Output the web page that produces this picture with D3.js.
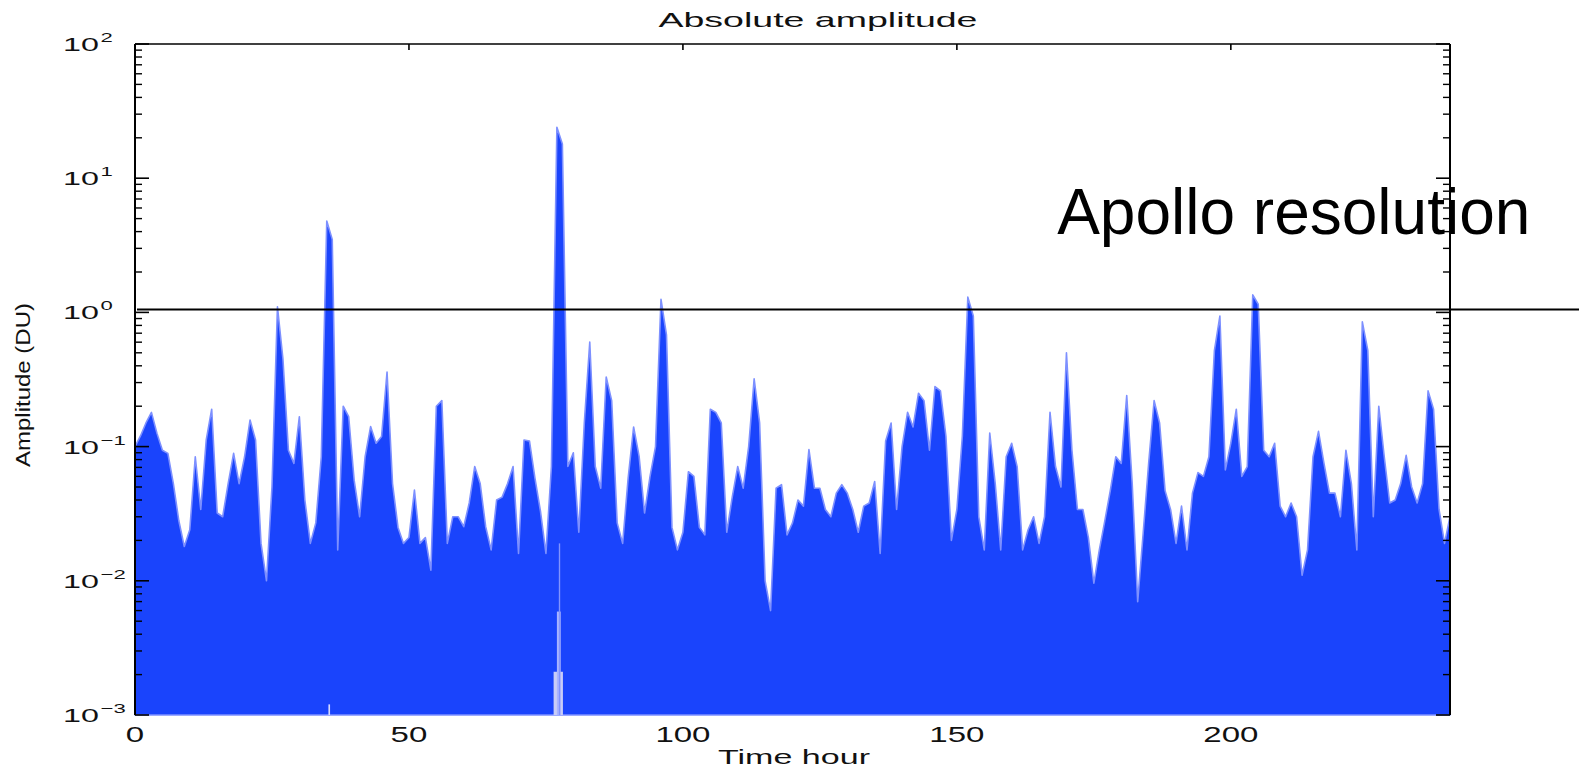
<!DOCTYPE html>
<html><head><meta charset="utf-8">
<script src="https://cdn.jsdelivr.net/npm/d3@7"></script>
<style>body{margin:0;background:#fff} svg{display:block}</style>
</head><body><svg id="c" width="1579" height="771"></svg>
<script>
// ---- data ----
const hours = [0,1,2,3,4,5,6,7,8,9,10,11,12,13,14,15,16,17,18,19,20,21,22,23,24,25,26,27,28,29,30,31,32,33,34,35,36,37,38,39,40,41,42,43,44,45,46,47,48,49,50,51,52,53,54,55,56,57,58,59,60,61,62,63,64,65,66,67,68,69,70,71,72,73,74,75,76,77,78,79,80,81,82,83,84,85,86,87,88,89,90,91,92,93,94,95,96,97,98,99,100,101,102,103,104,105,106,107,108,109,110,111,112,113,114,115,116,117,118,119,120,121,122,123,124,125,126,127,128,129,130,131,132,133,134,135,136,137,138,139,140,141,142,143,144,145,146,147,148,149,150,151,152,153,154,155,156,157,158,159,160,161,162,163,164,165,166,167,168,169,170,171,172,173,174,175,176,177,178,179,180,181,182,183,184,185,186,187,188,189,190,191,192,193,194,195,196,197,198,199,200,201,202,203,204,205,206,207,208,209,210,211,212,213,214,215,216,217,218,219,220,221,222,223,224,225,226,227,228,229,230,231,232,233,234,235,236,237,238,239,240];
const amplitude = [
 0.10,0.12,0.15,0.18,0.126,0.094,0.089,0.053,0.028,0.018,
 0.024,0.084,0.034,0.112,0.19,0.032,0.030,0.053,0.089,0.053,
 0.084,0.158,0.112,0.019,0.010,0.050,1.1,0.45,0.094,0.075,
 0.167,0.040,0.019,0.027,0.084,4.8,3.5,0.017,0.20,0.167,
 0.056,0.030,0.084,0.141,0.106,0.119,0.36,0.053,0.025,0.019,
 0.021,0.0475,0.019,0.021,0.012,0.2,0.22,0.019,0.030,0.030,
 0.0253,0.038,0.071,0.053,0.0253,0.017,0.040,0.042,0.053,0.071,
 0.016,0.112,0.11,0.058,0.033,0.016,0.071,24,18,0.071,
 0.09,0.023,0.15,0.6,0.071,0.049,0.33,0.22,0.027,0.019,
 0.058,0.14,0.085,0.032,0.06,0.1,1.25,0.68,0.025,0.017,
 0.023,0.065,0.06,0.025,0.022,0.19,0.18,0.15,0.023,0.042,
 0.071,0.049,0.10,0.32,0.15,0.010,0.006,0.049,0.052,0.022,
 0.027,0.04,0.036,0.095,0.049,0.049,0.034,0.03,0.045,0.052,
 0.045,0.034,0.023,0.036,0.038,0.055,0.016,0.11,0.15,0.034,
 0.10,0.18,0.14,0.25,0.22,0.094,0.28,0.26,0.12,0.02,
 0.034,0.12,1.3,0.94,0.03,0.017,0.126,0.053,0.017,0.084,
 0.106,0.071,0.017,0.024,0.030,0.019,0.030,0.18,0.071,0.05,
 0.5,0.094,0.034,0.034,0.021,0.0096,0.017,0.028,0.047,0.084,
 0.075,0.24,0.053,0.007,0.0226,0.075,0.22,0.15,0.047,0.034,
 0.019,0.036,0.017,0.045,0.064,0.06,0.084,0.52,0.94,0.067,
 0.106,0.19,0.06,0.071,1.35,1.15,0.094,0.084,0.106,0.036,
 0.030,0.038,0.030,0.011,0.017,0.084,0.13,0.075,0.045,0.045,
 0.030,0.094,0.053,0.017,0.85,0.52,0.030,0.2,0.084,0.038,
 0.040,0.053,0.086,0.05,0.038,0.053,0.26,0.19,0.034,0.019,
 0.030];
// short signal dropouts (lighter strips at the base)
const dropStart = [76.4, 77.0, 77.35, 35.3];
const dropEnd   = [78.1, 77.7, 77.6, 35.6];
const dropTop   = [0.0021, 0.0059, 0.019, 0.0012];
const xTickValues = [0, 50, 100, 150, 200];
const yTickExponents = [2, 1, 0, -1, -2, -3];
const resolutionLevel = 1.05;
const resolutionText = "Apollo resolution";
const titleText = "Absolute amplitude";
const xLabelText = "Time hour";
const yLabelText = "Amplitude (DU)";

// ---- drawing ----
const W = 1579, H = 771;
const svg = d3.select("#c");
const FONT = "'Liberation Sans', Arial, Helvetica, sans-serif";
const x = d3.scaleLinear().domain([0, 240]).range([135, 1450]);
const y = d3.scaleLog().domain([1e-3, 1e2]).range([715, 44]);
const [x0, x1] = x.range();
const [yb, yt] = y.range();

const data = hours.map((h, i) => ({h, v: amplitude[i]}));
const area = d3.area().x(d => x(d.h)).y0(yb).y1(d => y(d.v));
svg.append("path").datum(data).attr("d", area)
  .attr("fill", "#1a44fc").attr("stroke", "#7d90ff").attr("stroke-width", 1.6).attr("stroke-linejoin","round");

const dropColors = ["#c9cdf7", "#aab4ff", "#8193ff", "#d6d9ff"];
dropStart.forEach((s, i) => {
  svg.append("rect").attr("x", x(s)).attr("width", x(dropEnd[i]) - x(s))
    .attr("y", y(dropTop[i])).attr("height", yb - y(dropTop[i]))
    .attr("fill", dropColors[i]);
});

// frame
const ax = svg.append("g").attr("stroke", "#000").attr("fill", "none");
ax.append("line").attr("x1", x0).attr("x2", x0).attr("y1", yt).attr("y2", yb).attr("stroke-width", 2);
ax.append("line").attr("x1", x1).attr("x2", x1).attr("y1", yt).attr("y2", yb).attr("stroke-width", 2);
ax.append("line").attr("x1", x0).attr("x2", x1).attr("y1", yt).attr("y2", yt).attr("stroke-width", 1.6);

// y ticks (left and right, inward)
const minor = [];
for (let k = -3; k < 2; k++) for (let m = 2; m <= 9; m++) minor.push(m * Math.pow(10, k));
yTickExponents.forEach(k => {
  const yy = y(Math.pow(10, k));
  ax.append("line").attr("x1", x0).attr("x2", x0 + 14).attr("y1", yy).attr("y2", yy).attr("stroke-width", 1.6);
  ax.append("line").attr("x1", x1).attr("x2", x1 - 14).attr("y1", yy).attr("y2", yy).attr("stroke-width", 1.6);
});
minor.forEach(v => {
  const yy = y(v);
  ax.append("line").attr("x1", x0).attr("x2", x0 + 7).attr("y1", yy).attr("y2", yy).attr("stroke-width", 1.4);
  ax.append("line").attr("x1", x1).attr("x2", x1 - 7).attr("y1", yy).attr("y2", yy).attr("stroke-width", 1.4);
});
// top x ticks
xTickValues.forEach(v => {
  ax.append("line").attr("x1", x(v)).attr("x2", x(v)).attr("y1", yt).attr("y2", yt + 6).attr("stroke-width", 1.6);
});

// y tick labels
yTickExponents.forEach(k => {
  const t = svg.append("text")
    .attr("transform", `translate(63,${y(Math.pow(10, k)) + 7}) scale(1.7,1)`)
    .attr("font-family", FONT).attr("font-size", 19).attr("fill", "#111");
  t.append("tspan").text("10");
  t.append("tspan").attr("font-size", 13).attr("dx", 1).attr("dy", -9).text(k < 0 ? "\u2212" + (-k) : String(k));
});
// x tick labels
xTickValues.forEach(v => {
  svg.append("text").attr("transform", `translate(${x(v)},742) scale(1.5,1)`)
    .attr("text-anchor", "middle").attr("font-family", FONT).attr("font-size", 22).attr("fill", "#111").text(v);
});

// titles
svg.append("text").attr("x", 818).attr("y", 27).attr("text-anchor", "middle")
  .attr("font-family", FONT).attr("font-size", 21).attr("fill", "#111")
  .attr("textLength", 319).attr("lengthAdjust", "spacingAndGlyphs").text(titleText);
svg.append("text").attr("x", 794).attr("y", 764).attr("text-anchor", "middle")
  .attr("font-family", FONT).attr("font-size", 21).attr("fill", "#111")
  .attr("textLength", 152).attr("lengthAdjust", "spacingAndGlyphs").text(xLabelText);
svg.append("text").attr("transform", "translate(30,385) rotate(-90)").attr("text-anchor", "middle")
  .attr("font-family", FONT).attr("font-size", 21).attr("fill", "#111")
  .attr("textLength", 164).attr("lengthAdjust", "spacingAndGlyphs").text(yLabelText);

// resolution line and label
svg.append("line").attr("x1", x(0) + 2).attr("x2", W).attr("y1", y(resolutionLevel)).attr("y2", y(resolutionLevel))
  .attr("stroke", "#000").attr("stroke-width", 2);
svg.append("text").attr("x", x(168.3)).attr("y", y(3.84))
  .attr("font-family", FONT).attr("font-size", 64).attr("fill", "#000").text(resolutionText);
</script></body></html>
